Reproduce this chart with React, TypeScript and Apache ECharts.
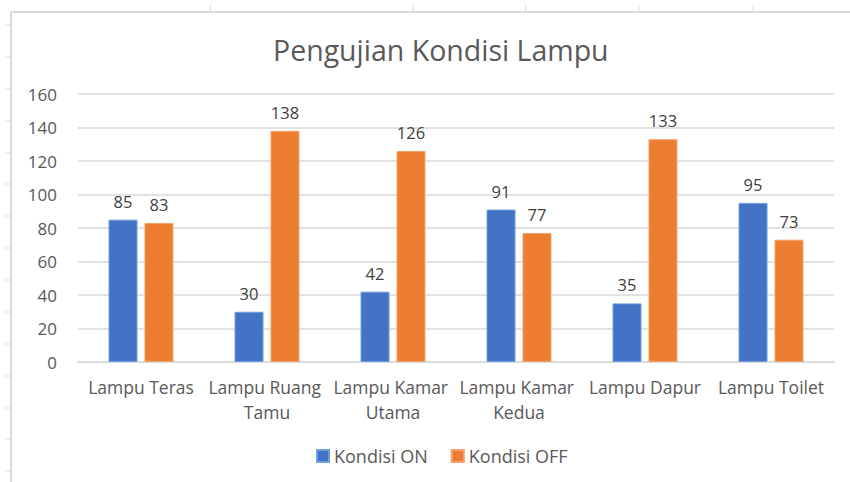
import React, { useEffect, useRef } from "react";
import * as echarts from "echarts";

const title = "Pengujian Kondisi Lampu";
const categories = [
  "Lampu Teras",
  "Lampu Ruang Tamu",
  "Lampu Kamar Utama",
  "Lampu Kamar Kedua",
  "Lampu Dapur",
  "Lampu Toilet",
];
const seriesNames = ["Kondisi ON", "Kondisi OFF"];
const kondisiOn = [85, 30, 42, 91, 35, 95];
const kondisiOff = [83, 138, 126, 77, 133, 73];
const yTicks = { min: 0, max: 160, interval: 20 };

const FONT = "'Open Sans', 'Noto Sans', sans-serif";
const GRID_COLOR = "#d9d9d9";
const TEXT_COLOR = "#595959";

export default function App() {
  const ref = useRef<HTMLDivElement>(null);

  useEffect(() => {
    document.body.style.margin = "0";
    if (!ref.current) return;
    const chart = echarts.init(ref.current, undefined, { renderer: "svg" });

    const sheetRows = [25, 57, 89, 121, 153, 184, 216, 248, 280, 312, 344, 376, 408, 439, 471];
    const sheetCols = [210, 413, 526, 639, 753];
    const decor: any[] = [
      { type: "line", shape: { x1: 11, y1: 12, x2: 850, y2: 12 }, style: { stroke: GRID_COLOR, lineWidth: 2 }, silent: true },
      { type: "line", shape: { x1: 11, y1: 12, x2: 11, y2: 482 }, style: { stroke: GRID_COLOR, lineWidth: 2 }, silent: true },
      ...sheetRows.map((y) => ({
        type: "line",
        shape: { x1: 5, y1: y, x2: 10, y2: y },
        style: { stroke: GRID_COLOR, lineWidth: 1 },
        silent: true,
      })),
      ...sheetCols.map((x) => ({
        type: "line",
        shape: { x1: x, y1: 5, x2: x, y2: 11 },
        style: { stroke: GRID_COLOR, lineWidth: 1 },
        silent: true,
      })),
    ];

    const labelStyle = {
      show: true,
      position: "top" as const,
      distance: 10,
      color: "#404040",
      fontFamily: FONT,
      fontSize: 16.5,
    };

    chart.setOption({
      animation: false,
      backgroundColor: "#ffffff",
      textStyle: { fontFamily: FONT },
      title: {
        text: title,
        left: 268,
        top: 30,
        itemGap: 0,
        textStyle: {
          color: TEXT_COLOR,
          fontFamily: FONT,
          fontSize: 28.5,
          fontWeight: "normal",
        },
      },
      graphic: decor,
      legend: {
        data: seriesNames,
        left: 311,
        top: 442,
        itemWidth: 12,
        itemHeight: 12,
        itemGap: 23,
        icon: "rect",
        textStyle: { color: TEXT_COLOR, fontFamily: FONT, fontSize: 18 },
      },
      grid: { left: 78, right: 16, top: 94, bottom: 120, containLabel: false },
      xAxis: {
        type: "category",
        data: categories,
        axisLine: { show: true, lineStyle: { color: GRID_COLOR, width: 1.5 } },
        axisTick: { show: false },
        axisLabel: {
          color: TEXT_COLOR,
          fontFamily: FONT,
          fontSize: 17.5,
          margin: 12,
          lineHeight: 25,
          interval: 0,
          width: 126,
          overflow: "break",
        },
      },
      yAxis: {
        type: "value",
        min: yTicks.min,
        max: yTicks.max,
        interval: yTicks.interval,
        axisLine: { show: false },
        axisTick: { show: false },
        splitLine: { lineStyle: { color: GRID_COLOR, width: 1.5 } },
        axisLabel: {
          color: TEXT_COLOR,
          fontFamily: FONT,
          fontSize: 17,
          margin: 21,
        },
      },
      series: [
        {
          name: seriesNames[0],
          type: "bar",
          data: kondisiOn,
          barWidth: 29,
          barGap: "24%",
          itemStyle: { color: "#4472C4", borderColor: "#6f9ee0", borderWidth: 1 },
          label: labelStyle,
        },
        {
          name: seriesNames[1],
          type: "bar",
          data: kondisiOff,
          barWidth: 29,
          barGap: "24%",
          itemStyle: { color: "#ED7D31", borderColor: "#f4a26b", borderWidth: 1 },
          label: labelStyle,
        },
      ],
    });

    return () => chart.dispose();
  }, []);

  return <div ref={ref} style={{ width: 850, height: 482 }} />;
}
